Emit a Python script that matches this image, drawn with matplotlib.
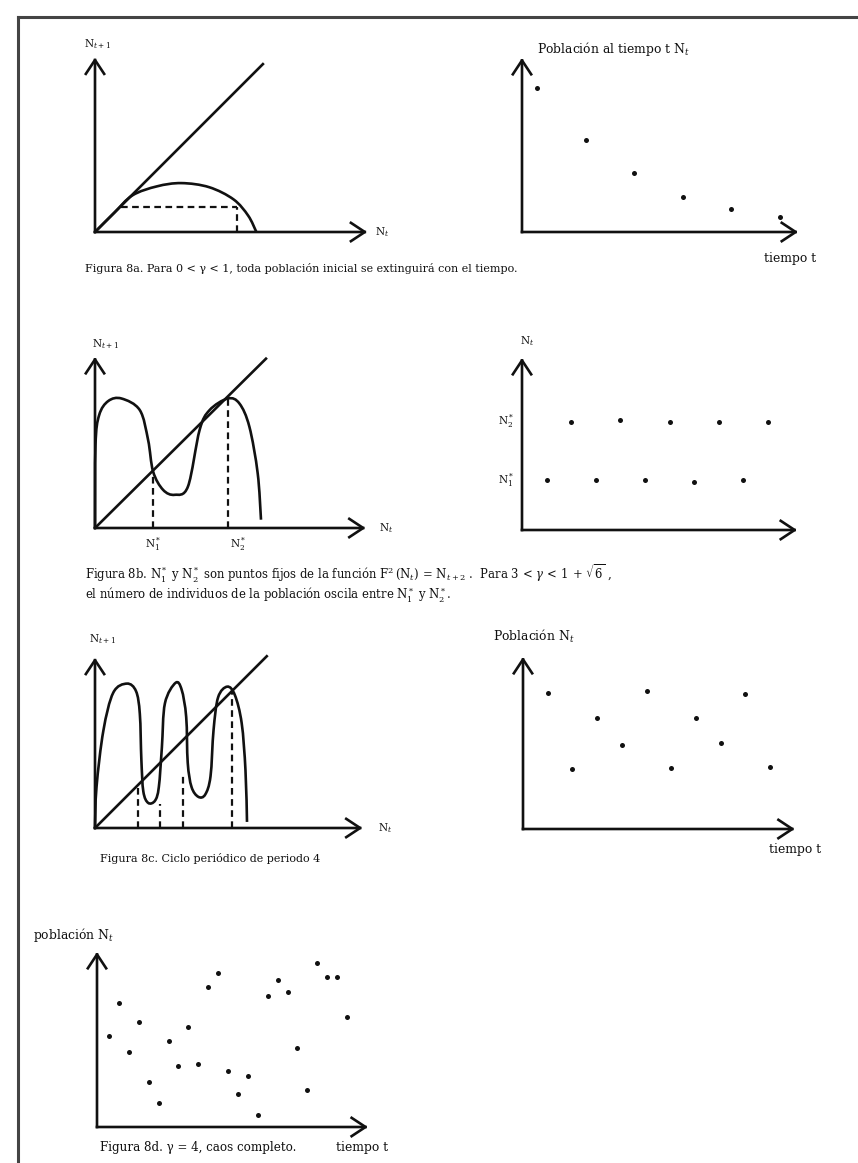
import numpy as np
import matplotlib
matplotlib.use("Agg")
import matplotlib.pyplot as plt
from matplotlib.path import Path
from matplotlib.patches import PathPatch
from matplotlib.lines import Line2D

plt.rcParams['font.family'] = 'serif'
plt.rcParams['font.serif'] = ['DejaVu Serif']
plt.rcParams['mathtext.fontset'] = 'dejavuserif'

# Figura 8a: curva N_{t+1} = F(N_t) y serie que se extingue
hump_x = [0, 0.12, 0.23, 0.38, 0.53, 0.70, 0.85, 0.94, 0.99]
hump_y = [0, 0.12, 0.225, 0.28, 0.30, 0.275, 0.20, 0.10, 0]
cobweb_level = 0.153
cobweb_from = 0.16
cobweb_to = 0.87
t_a = [1, 2, 3, 4, 5, 6]
n_a = [0.83, 0.53, 0.34, 0.20, 0.13, 0.086]

# Figura 8b: F^2 con dos puntos fijos, ciclo de periodo 2
f2_x = [0, 0.003, 0.025, 0.08, 0.16, 0.27, 0.32, 0.35, 0.41, 0.48, 0.56, 0.63, 0.69,
        0.80, 0.87, 0.93, 0.98, 1.0]
f2_y = [0, 0.50, 0.68, 0.765, 0.78, 0.71, 0.53, 0.34, 0.23, 0.20, 0.25, 0.59, 0.71,
        0.78, 0.75, 0.61, 0.33, 0.05]
fixed_x = [0.35, 0.80]
fixed_y = [0.34, 0.78]
t_b = [1, 2, 3, 4, 5, 6, 7, 8, 9, 10]
n_b = [0.29, 0.63, 0.29, 0.64, 0.29, 0.63, 0.28, 0.63, 0.29, 0.63]

# Figura 8c: F^4, ciclo de periodo 4
f4_x = [0, 0.01, 0.055, 0.12, 0.21, 0.27, 0.295, 0.305, 0.318, 0.35, 0.395, 0.42, 0.44,
        0.46, 0.53, 0.57, 0.60, 0.61, 0.635, 0.68, 0.725, 0.76, 0.78, 0.81, 0.87,
        0.92, 0.965, 0.99, 1.0]
f4_y = [0, 0.27, 0.64, 0.89, 0.95, 0.90, 0.75, 0.45, 0.24, 0.165, 0.18, 0.27, 0.53,
        0.82, 0.955, 0.91, 0.73, 0.43, 0.27, 0.205, 0.22, 0.34, 0.645, 0.86, 0.93,
        0.875, 0.69, 0.38, 0.04]
cycle_x = [0.285, 0.43, 0.58, 0.90]
cycle_y = [0.28, 0.16, 0.36, 0.91]
t_c = [1, 2, 3, 4, 5, 6, 7, 8, 9, 10]
n_c = [0.79, 0.35, 0.645, 0.49, 0.80, 0.355, 0.645, 0.50, 0.785, 0.36]

# Figura 8d: gamma = 4, caos
t_d = list(range(1, 26))
n_d = [0.52, 0.71, 0.43, 0.60, 0.26, 0.14, 0.49, 0.35, 0.57, 0.36, 0.80, 0.88, 0.32,
       0.19, 0.29, 0.07, 0.75, 0.84, 0.77, 0.45, 0.21, 0.94, 0.86, 0.86, 0.63]

INK = '#111111'
W, H = 858, 1163
fig = plt.figure(figsize=(W / 100, H / 100), dpi=100)


def smooth_path(xs, ys):
    # curva suave (Bezier cubica) que pasa por los nodos
    p = np.column_stack([xs, ys]).astype(float)
    verts = [p[0]]
    codes = [Path.MOVETO]
    n = len(p)
    for i in range(n - 1):
        p0 = p[max(i - 1, 0)]
        p1 = p[i]
        p2 = p[i + 1]
        p3 = p[min(i + 2, n - 1)]
        verts += [p1 + (p2 - p0) / 6, p2 - (p3 - p1) / 6, p2]
        codes += [Path.CURVE4] * 3
    return Path(verts, codes)


def panel(ox, oy, sx, sy, x0, x1, y1):
    # (x0, 0) cae en el pixel (ox, oy); sx, sy pixeles por unidad
    pad = 16
    w = (x1 - x0) * sx + 2 * pad
    h = y1 * sy + 2 * pad
    ax = fig.add_axes([(ox - pad) / W, 1 - (oy + pad) / H, w / W, h / H])
    ax.set_xlim(x0 - pad / sx, x1 + pad / sx)
    ax.set_ylim(-pad / sy, y1 + pad / sy)
    ax.axis('off')
    for tip in [(x1, 0), (x0, y1)]:
        ax.annotate('', xy=tip, xytext=(x0, 0),
                    arrowprops=dict(arrowstyle='->,head_length=0.5,head_width=0.33',
                                    lw=1.9, color=INK, shrinkA=0, shrinkB=0,
                                    mutation_scale=20, capstyle='projecting'))
    return ax


def draw_curve(ax, xs, ys):
    ax.add_patch(PathPatch(smooth_path(xs, ys), fill=False, lw=1.9, ec=INK))


def dashed(ax, xs, ys):
    ax.plot(xs, ys, color=INK, lw=1.6, ls=(0, (3, 2)))


def dots(ax, t, n):
    ax.plot(t, n, 'o', color=INK, ms=3.6, mec='none')


sym = dict(fontsize=7.6, color=INK)
lab = dict(fontsize=8.9, color=INK)

# ---- 8a izquierda
ax = panel(95, 232, 163, 163, 0, 1.67, 1.07)
ax.plot([0, 1.03], [0, 1.03], color=INK, lw=1.9)
draw_curve(ax, hump_x, hump_y)
dashed(ax, [cobweb_from, cobweb_to], [cobweb_level, cobweb_level])
dashed(ax, [cobweb_to, cobweb_to], [0, cobweb_level])
ax.text(-0.07, 1.15, r'$\mathrm{N}_{t+1}$', ha='left', va='center', **sym)
ax.text(1.72, 0, r'$\mathrm{N}_t$', ha='left', va='center', **sym)

# ---- 8a derecha
ax = panel(522, 232, 48.6, 174, 0.69, 6.37, 1.0)
dots(ax, t_a, n_a)
ax.text(1.0, 1.05, r'Población al tiempo t $\mathrm{N}_t$', ha='left', va='center', **lab)
ax.text(6.2, -0.15, 'tiempo t', ha='center', va='center', **lab)

fig.text(85 / W, 1 - 268 / H,
         'Figura 8a. Para 0 < γ < 1, toda población inicial se extinguirá con el tiempo.',
         ha='left', va='center', fontsize=8.0, color=INK)

# ---- 8b izquierda
ax = panel(95, 528, 166, 166, 0, 1.63, 1.03)
ax.plot([0, 1.03], [0, 1.02], color=INK, lw=1.9)
draw_curve(ax, f2_x, f2_y)
for fx, fy in zip(fixed_x, fixed_y):
    dashed(ax, [fx, fx], [0, fy])
ax.text(-0.02, 1.11, r'$\mathrm{N}_{t+1}$', ha='left', va='center', **sym)
ax.text(1.71, 0, r'$\mathrm{N}_t$', ha='left', va='center', **sym)
ax.text(fixed_x[0], -0.10, r'$\mathrm{N}_1^*$', ha='center', va='center', **sym)
ax.text(fixed_x[1] + 0.06, -0.10, r'$\mathrm{N}_2^*$', ha='center', va='center', **sym)

# ---- 8b derecha
ax = panel(522, 530, 24.6, 172, 0, 11.18, 1.0)
dots(ax, t_b, n_b)
ax.text(-0.1, 1.10, r'$\mathrm{N}_t$', ha='left', va='center', **sym)
ax.text(-0.3, 0.63, r'$\mathrm{N}_2^*$', ha='right', va='center', **sym)
ax.text(-0.3, 0.29, r'$\mathrm{N}_1^*$', ha='right', va='center', **sym)

fig.text(85 / W, 1 - 574 / H,
         r'Figura 8b. $\mathrm{N}_1^*$ y $\mathrm{N}_2^*$ son puntos fijos de la función '
         r'$\mathrm{F}^2\,(\mathrm{N}_t) \,=\, \mathrm{N}_{t+2}$ .  Para $3 \,<\, \gamma \,<\, 1 \,+\, \sqrt{6}$ ,',
         ha='left', va='center', fontsize=8.4, color=INK)
fig.text(85 / W, 1 - 595 / H,
         r'el número de individuos de la población oscila entre $\mathrm{N}_1^*$ y $\mathrm{N}_2^*$.',
         ha='left', va='center', fontsize=8.4, color=INK)

# ---- 8c izquierda
ax = panel(95, 828, 152, 152, 0, 1.76, 1.12)
ax.plot([0, 1.13], [0, 1.13], color=INK, lw=1.9)
draw_curve(ax, f4_x, f4_y)
for cx, cy in zip(cycle_x, cycle_y):
    dashed(ax, [cx, cx], [0, cy])
ax.text(-0.04, 1.24, r'$\mathrm{N}_{t+1}$', ha='left', va='center', **sym)
ax.text(1.86, 0, r'$\mathrm{N}_t$', ha='left', va='center', **sym)

# ---- 8c derecha
ax = panel(523, 829, 24.7, 172, 0, 11.0, 1.0)
dots(ax, t_c, n_c)
ax.text(-1.2, 1.12, r'Población $\mathrm{N}_t$', ha='left', va='center', **lab)
ax.text(11.0, -0.12, 'tiempo t', ha='center', va='center', **lab)

fig.text(100 / W, 1 - 858 / H, 'Figura 8c. Ciclo periódico de periodo 4',
         ha='left', va='center', fontsize=8.0, color=INK)

# ---- 8d
ax = panel(97, 1127, 9.92, 175, -0.21, 27.1, 1.0)
dots(ax, t_d, n_d)
ax.text(-6.65, 1.10, r'población $\mathrm{N}_t$', ha='left', va='center', **lab)
ax.text(26.5, -0.115, 'tiempo t', ha='center', va='center', **lab)
fig.text(100 / W, 1 - 1148 / H, 'Figura 8d. γ = 4, caos completo.',
         ha='left', va='center', fontsize=8.6, color=INK)

# marco de la pagina
fig.add_artist(Line2D([18 / W, 18 / W], [1 - 17 / H, 0], color='#444444', lw=2.2))
fig.add_artist(Line2D([18 / W, 1], [1 - 17 / H, 1 - 17 / H], color='#444444', lw=2.2))

fig.savefig('out.png', dpi=100)
